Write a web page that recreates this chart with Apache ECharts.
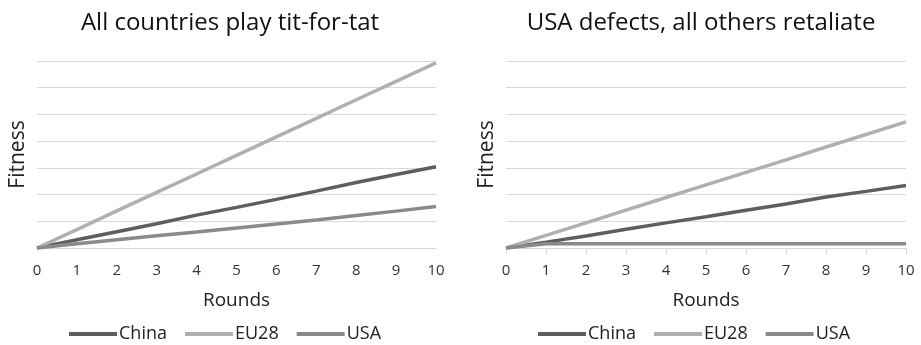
<!DOCTYPE html>
<html>
<head>
<meta charset="utf-8">
<script src="https://cdn.jsdelivr.net/npm/echarts@6/dist/echarts.min.js"></script>
<style>
html,body{margin:0;padding:0;background:#fff;}
#chart{width:921px;height:345px;}
</style>
</head>
<body>
<div id="chart"></div>
<script>
// Rounds of the trade game (x axis)
const rounds = ['0','1','2','3','4','5','6','7','8','9','10'];

// Panel 1: every country plays tit-for-tat
const titForTatChina = [0, 0.31, 0.61, 0.91, 1.23, 1.52, 1.82, 2.13, 2.45, 2.75, 3.04];
const titForTatEU28  = [0, 0.69, 1.39, 2.08, 2.77, 3.47, 4.16, 4.85, 5.55, 6.24, 6.93];
const titForTatUSA   = [0, 0.16, 0.31, 0.46, 0.6, 0.75, 0.9, 1.05, 1.22, 1.38, 1.55];

// Panel 2: the USA defects, the others retaliate
const defectChina = [0, 0.22, 0.45, 0.7, 0.94, 1.17, 1.41, 1.65, 1.91, 2.12, 2.34];
const defectEU28  = [0, 0.47, 0.94, 1.42, 1.89, 2.36, 2.83, 3.3, 3.78, 4.25, 4.72];
const defectUSA   = [0, 0.16, 0.16, 0.16, 0.16, 0.16, 0.16, 0.16, 0.16, 0.16, 0.16];

const panelTitles = ['All countries play tit-for-tat', 'USA defects, all others retaliate'];
const seriesNames = ['China', 'EU28', 'USA'];
const seriesColors = {China: '#5e5e5e', EU28: '#b0b0b0', USA: '#8a8a8a'};

const FONT = '"Open Sans", Lato, sans-serif';
const gridColor = '#d9d9d9';

function xAxisFor(idx, showTicks) {
  return {
    type: 'category', gridIndex: idx, data: rounds, boundaryGap: false,
    name: 'Rounds', nameLocation: 'middle', nameGap: 43,
    nameTextStyle: {fontFamily: FONT, fontSize: 19, color: '#222'},
    axisLine: {show: true, lineStyle: {color: gridColor, width: 1}},
    axisTick: {show: showTicks, length: 6, lineStyle: {color: gridColor}},
    axisLabel: {fontFamily: FONT, fontSize: 15, color: '#333', margin: 15}
  };
}
function yAxisFor(idx) {
  return {
    type: 'value', gridIndex: idx, min: 0, max: 7, interval: 1,
    name: 'Fitness', nameLocation: 'middle', nameGap: 8, nameRotate: 90,
    nameTextStyle: {fontFamily: FONT, fontSize: 21, color: '#222'},
    axisLine: {show: false}, axisTick: {show: false}, axisLabel: {show: false},
    splitLine: {lineStyle: {color: gridColor, width: 1}}
  };
}
function lineSeries(name, data, idx) {
  return {
    name, type: 'line', data, xAxisIndex: idx, yAxisIndex: idx,
    symbol: 'none', smooth: false, animation: false,
    lineStyle: {color: seriesColors[name], width: 3.5},
    itemStyle: {color: seriesColors[name]}
  };
}
function legendFor(leftX) {
  return {
    data: seriesNames, left: leftX, top: 320, orient: 'horizontal',
    icon: 'rect', itemWidth: 48, itemHeight: 4, itemGap: 18,
    textStyle: {fontFamily: FONT, fontSize: 18, color: '#222', padding: [0, 0, 0, -3]},
    selectedMode: false
  };
}

const chart = echarts.init(document.getElementById('chart'), null, {renderer: 'canvas'});
chart.setOption({
  backgroundColor: '#fff',
  animation: false,
  title: [
    {text: panelTitles[0], left: 225, top: 6, textAlign: 'center',
     textStyle: {fontFamily: FONT, fontSize: 24, fontWeight: 'normal', color: '#111'}},
    {text: panelTitles[1], left: 696, top: 6, textAlign: 'center',
     textStyle: {fontFamily: FONT, fontSize: 24, fontWeight: 'normal', color: '#111'}}
  ],
  legend: [legendFor(64), legendFor(533)],
  grid: [
    {left: 37, width: 399, top: 61, height: 187},
    {left: 506, width: 400, top: 61, height: 187}
  ],
  xAxis: [xAxisFor(0, false), xAxisFor(1, true)],
  yAxis: [yAxisFor(0), yAxisFor(1)],
  series: [
    lineSeries('China', titForTatChina, 0),
    lineSeries('EU28', titForTatEU28, 0),
    lineSeries('USA', titForTatUSA, 0),
    lineSeries('China', defectChina, 1),
    lineSeries('EU28', defectEU28, 1),
    lineSeries('USA', defectUSA, 1)
  ]
});
</script>
</body>
</html>
